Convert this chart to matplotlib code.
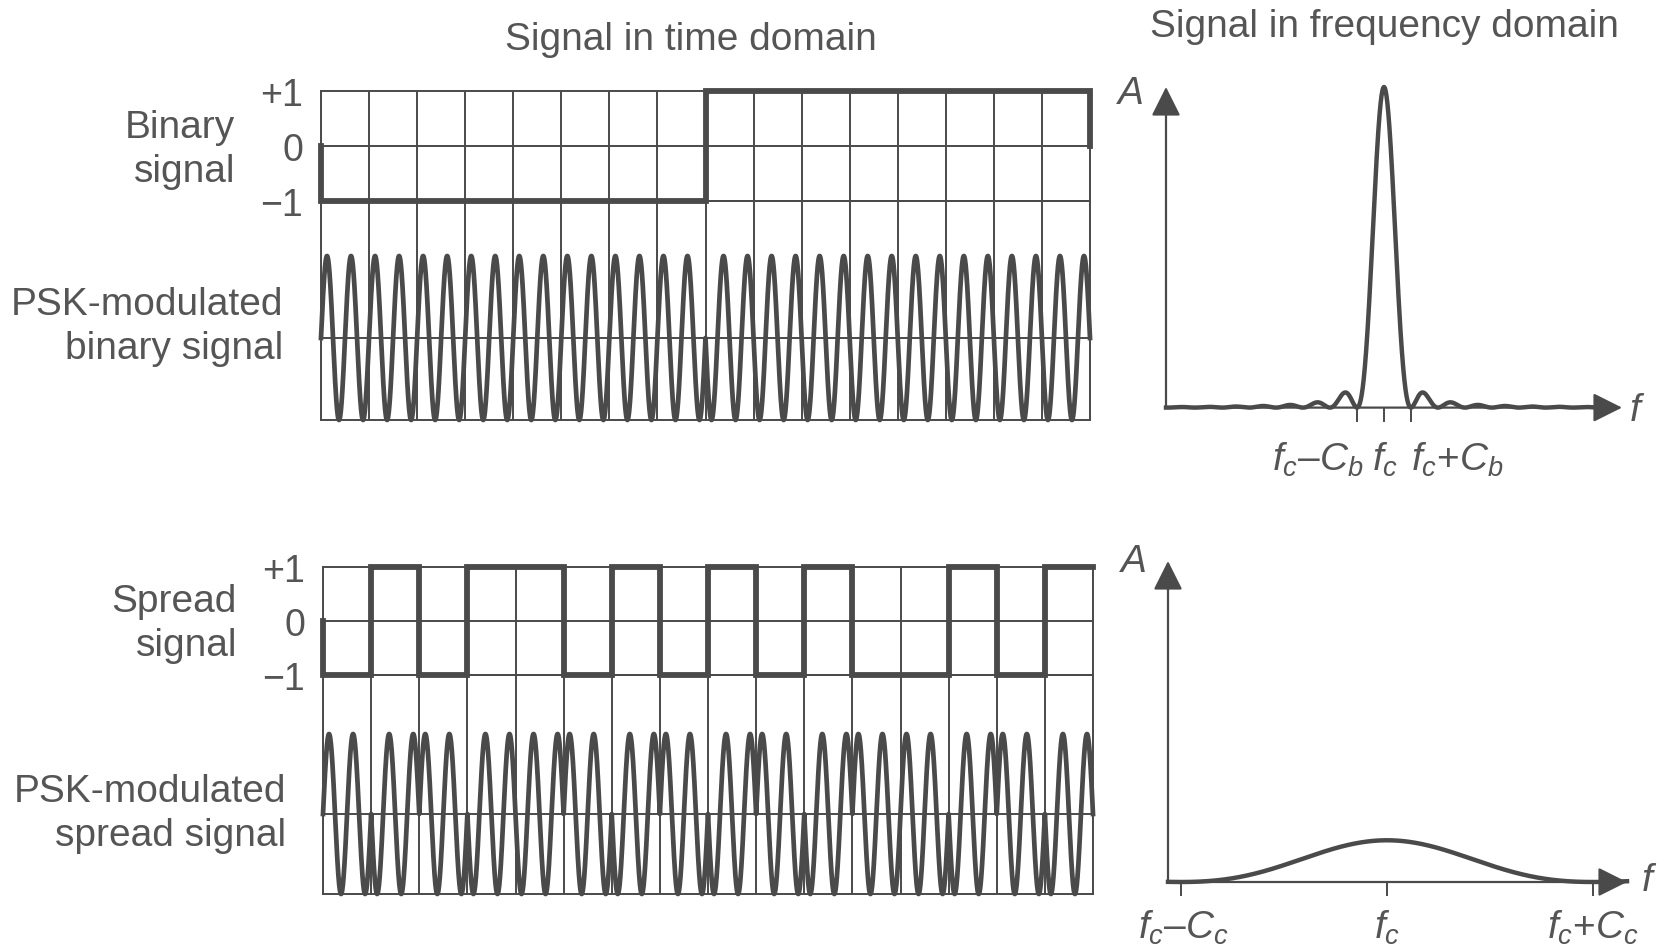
import numpy as np
import matplotlib.pyplot as plt

plt.rcParams['font.family'] = ['Liberation Sans', 'DejaVu Sans']
plt.rcParams['mathtext.fontset'] = 'custom'
plt.rcParams['mathtext.rm'] = 'Liberation Sans'
plt.rcParams['mathtext.it'] = 'Liberation Sans:italic'

# ~~~ values ~~~
binary_bits = [-1, -1, -1, -1, -1, -1, -1, -1, 1, 1, 1, 1, 1, 1, 1, 1]
spread_chips = [-1, 1, -1, 1, 1, -1, 1, -1, 1, -1, 1, -1, -1, 1, -1, 1]
level_ticks = [1, 0, -1]
level_labels = ['+1', '0', '\u22121']
cycles_per_chip = 2

# spectrum: main lobe peak (relative to the A axis)
peak_binary = 1.0
peak_spread = 0.13
labels_binary = [r'$f_c$–$C_b$', r'$f_c$', r'$f_c$+$C_b$']
labels_spread = [r'$f_c$–$C_c$', r'$f_c$', r'$f_c$+$C_c$']

W, H = 1673, 953
LINE = '#4a4a4a'
TEXT = '#555555'
FS = 28
TICK_FS = 27

fig = plt.figure(figsize=(W / 100, H / 100), dpi=100)


def px_axes(left, top, right, bottom):
    '''axes placed by pixel edges of the reference picture'''
    return fig.add_axes([left / W, 1 - bottom / H, (right - left) / W, (bottom - top) / H])


def px_text(x, y, s, **kw):
    fig.text(x / W, 1 - y / H, s, color=TEXT, fontsize=FS, **kw)


def step_path(levels, close_end):
    x, y = [0], [0]
    for i, v in enumerate(levels):
        x += [i, i + 1]
        y += [v, v]
    if close_end:
        x.append(len(levels))
        y.append(0)
    return x, y


def psk_wave(levels):
    n = len(levels)
    t = np.linspace(0, n, n * 400 + 1)
    idx = np.minimum(t.astype(int), n - 1)
    return t, -np.asarray(levels)[idx] * np.sin(2 * np.pi * cycles_per_chip * t)


def time_panel(levels, left, right, top, zero_y, bottom, close_end, sine_top_lim):
    n = len(levels)
    ax_b = px_axes(left, top, right, zero_y)
    ax_s = px_axes(left, zero_y, right, bottom)
    for ax in (ax_b, ax_s):
        ax.set_xlim(0, n)
        for x in range(n + 1):
            ax.axvline(x, color=LINE, lw=1.4, zorder=1)
        for sp in ax.spines.values():
            sp.set_color(LINE)
            sp.set_linewidth(1.4)
        ax.set_xticks([])
        ax.patch.set_alpha(0)

    ax_b.set_ylim(-1, 1)
    ax_b.axhline(0, color=LINE, lw=1.4, zorder=1)
    ax_b.set_yticks(level_ticks)
    ax_b.set_yticklabels(level_labels)
    ax_b.tick_params(axis='y', length=0, pad=13, labelsize=TICK_FS, labelcolor=TEXT)
    bx, by = step_path(levels, close_end)
    ax_b.plot(bx, by, color=LINE, lw=4.2, solid_joinstyle='miter', clip_on=False, zorder=3)

    ax_s.set_ylim(-1, sine_top_lim)
    ax_s.axhline(0, color=LINE, lw=1.4, zorder=1)
    ax_s.set_yticks([])
    t, s = psk_wave(levels)
    ax_s.plot(t, s, color=LINE, lw=3.4, clip_on=False, zorder=3)


def spectrum_panel(left, right, top, base, xlim, peak, half_width, tick_labels, label_x, label_y):
    ax = px_axes(left, top, right, base)
    ax.set_xlim(*xlim)
    ax.set_ylim(0, 1)
    for sp in ax.spines.values():
        sp.set_visible(False)
    ax.set_yticks([])
    ax.set_xticks([-half_width, 0, half_width])
    ax.set_xticklabels([])
    ax.tick_params(axis='x', direction='out', length=10, width=1.4, color=LINE)
    arrow = dict(arrowstyle='-|>,head_length=0.9,head_width=0.45', mutation_scale=20,
                 lw=1.6, color=LINE, shrinkA=0, shrinkB=0)
    ax.annotate('', xy=(0, 1), xytext=(0, 0), xycoords='axes fraction',
                textcoords='axes fraction', arrowprops=arrow, annotation_clip=False)
    ax.annotate('', xy=(1, 0), xytext=(0, 0), xycoords='axes fraction',
                textcoords='axes fraction', arrowprops=arrow, annotation_clip=False)
    f = np.linspace(xlim[0], min(xlim[1], 8.0), 3000)
    ax.plot(f, peak * np.sinc(f / half_width) ** 2, color=LINE, lw=3.2, clip_on=False, zorder=3)
    for x, s in zip(label_x, tick_labels):
        ax.text(x, label_y, s, ha='center', va='center', fontsize=FS, color=TEXT,
                transform=ax.get_xaxis_transform())
    return ax


# ~~~ time domain ~~~
time_panel(binary_bits, 321, 1090, 92, 201.5, 421, True, (339 - 201.5) / 82)
time_panel(spread_chips, 323, 1093, 568, 676, 895, False, (815 - 676) / 80)

# ~~~ frequency domain ~~~
spectrum_panel(1166, 1622, 88, 408.6, ((1166 - 1384) / 27, (1622 - 1384) / 27),
               peak_binary, 1.0, labels_binary, [-2.45, 0.05, 2.7], -0.16)
spectrum_panel(1168, 1627, 562, 883, ((1168 - 1387) / 206, (1627 - 1387) / 206),
               peak_spread, 1.0, labels_spread, [-0.99, 0.0, 1.0], -0.14)

# ~~~ texts ~~~
px_text(691, 40, 'Signal in time domain', ha='center', va='center')
px_text(1384, 27, 'Signal in frequency domain', ha='center', va='center')
px_text(235, 150, 'Binary\nsignal', ha='right', va='center', multialignment='right', linespacing=1.3)
px_text(283, 327, 'PSK-modulated\nbinary signal', ha='right', va='center', multialignment='right', linespacing=1.3)
px_text(237, 624, 'Spread\nsignal', ha='right', va='center', multialignment='right', linespacing=1.3)
px_text(286, 814, 'PSK-modulated\nspread signal', ha='right', va='center', multialignment='right', linespacing=1.3)
px_text(1131, 94, 'A', ha='center', va='center', fontstyle='italic')
px_text(1134, 562, 'A', ha='center', va='center', fontstyle='italic')
px_text(1630, 411, 'f', ha='left', va='center', fontstyle='italic')
px_text(1642, 881, 'f', ha='left', va='center', fontstyle='italic')

plt.savefig('out.png', dpi=100)
